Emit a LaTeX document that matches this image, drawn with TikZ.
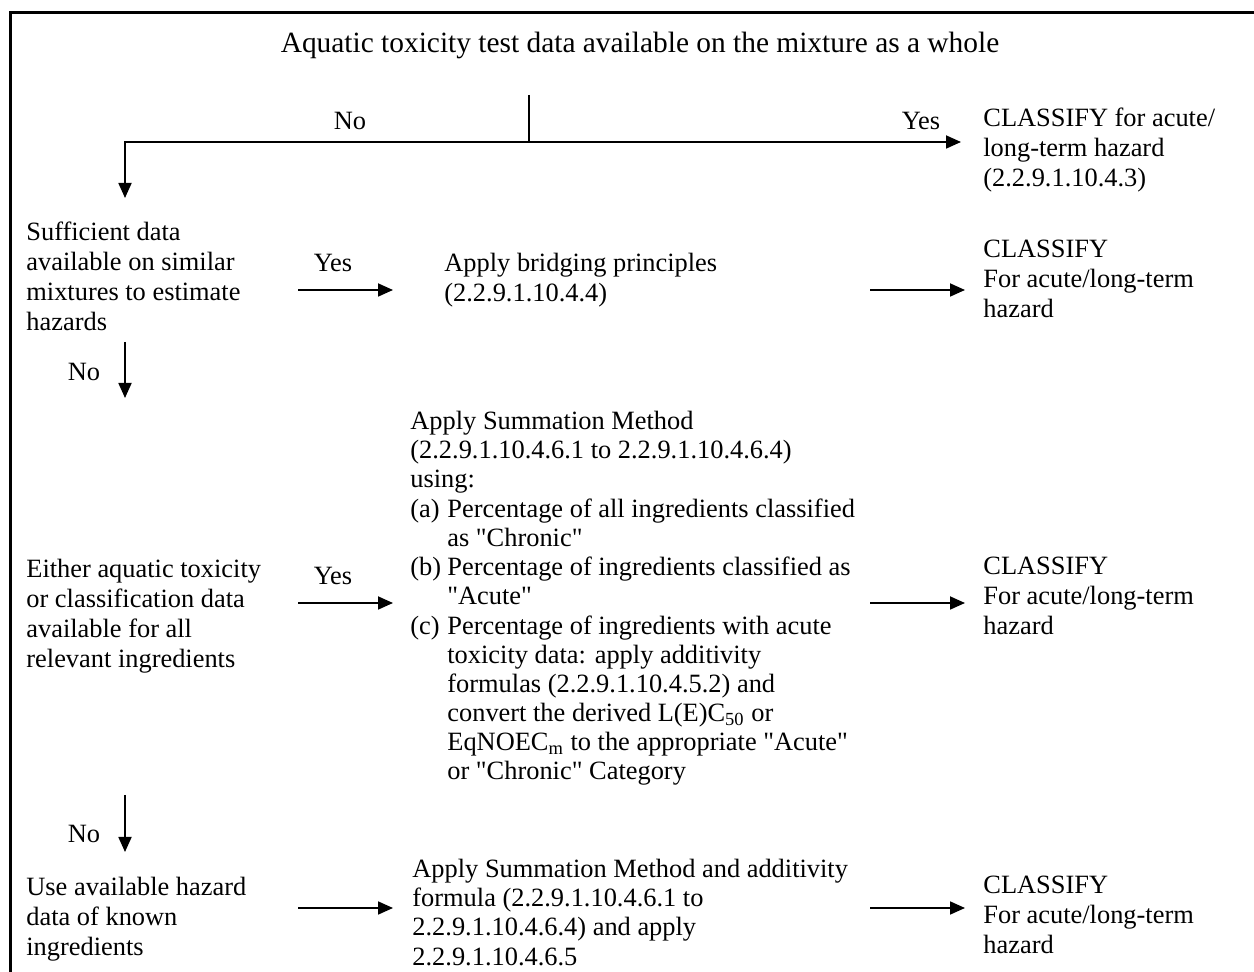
\documentclass[tikz,border=0pt]{standalone}
\usepackage{fontspec}
\setmainfont{Liberation Serif}[Ligatures=TeXOff]
\usetikzlibrary{arrows.meta}

\begin{document}
\begin{tikzpicture}[x=0.5pt,y=-0.5pt,
txt/.style={anchor=base west, inner sep=0pt, align=left, font=\fontsize{13.2}{15}\selectfont},
lbl/.style={anchor=base, inner sep=0pt, font=\fontsize{13.2}{15}\selectfont},
flow/.style={line width=0.9pt, -{Triangle[length=7.5pt,width=6.5pt]}},
]

\useasboundingbox (0,0) rectangle (1254,972);
\draw[line width=1.5pt] (10,972) -- (10,13) -- (1260,13);

\node[lbl, font=\fontsize{14.7}{16}\selectfont] (title) at (640,53) {Aquatic toxicity test data available on the mixture as a whole};

% nodes sit on the baseline of their last line
\node[txt]              (classify0)        at (983,187)      {CLASSIFY for acute/\\long-term hazard\\(2.2.9.1.10.4.3)};

\node[txt]              (sufficient)       at (26,331)       {Sufficient data\\available on similar\\mixtures to estimate\\hazards};
\node[txt]              (bridging)         at (444,302)      {Apply bridging principles\\(2.2.9.1.10.4.4)};
\node[txt]              (classify1)        at (983,318)      {CLASSIFY\\For acute/long-term\\hazard};

\node[txt]              (either)           at (26,668)       {Either aquatic toxicity\\or classification data\\available for all\\relevant ingredients};
\node[txt, font=\fontsize{13.2}{14.6}\selectfont]
                        (summation)        at (410,780)      {Apply Summation Method\\
(2.2.9.1.10.4.6.1 to 2.2.9.1.10.4.6.4)\\
using:\\
\makebox[18.5pt][l]{(a)}Percentage of all ingredients classified\\
\hspace*{18.5pt}as "Chronic"\\
\makebox[18.5pt][l]{(b)}Percentage of ingredients classified as\\
\hspace*{18.5pt}"Acute"\\
\makebox[18.5pt][l]{(c)}Percentage of ingredients with acute\\
\hspace*{18.5pt}toxicity data: apply additivity\\
\hspace*{18.5pt}formulas (2.2.9.1.10.4.5.2) and\\
\hspace*{18.5pt}convert the derived L(E)C\textsubscript{50} or\\
\hspace*{18.5pt}EqNOEC\textsubscript{m} to the appropriate "Acute"\\
\hspace*{18.5pt}or "Chronic" Category};
\node[txt]              (classify2)        at (983,635)      {CLASSIFY\\For acute/long-term\\hazard};

\node[txt]              (known)            at (26,956)       {Use available hazard\\data of known\\ingredients};
\node[txt, font=\fontsize{13.2}{14.6}\selectfont]
                        (additivity)       at (412,965)      {Apply Summation Method and additivity\\formula (2.2.9.1.10.4.6.1 to\\2.2.9.1.10.4.6.4) and apply\\2.2.9.1.10.4.6.5};
\node[txt]              (classify3)        at (983,953)      {CLASSIFY\\For acute/long-term\\hazard};

% top fork
\coordinate (split)  at (529,95);
\coordinate (fork)   at (529,142);
\coordinate (turn)   at (125,142);
\coordinate (down0)  at (125,198);
\coordinate (yes0)   at (961,142);
\draw[line width=0.9pt] (split) -- (fork);
\draw[flow] (fork) -- (turn) -- (down0);
\draw[flow] (fork) -- (yes0);
\node[lbl] (no0)   at (350,130) {No};
\node[lbl] (yes0l) at (921,130) {Yes};

% rows
\foreach \r/\y in {1/290,2/603,3/908}{
  \coordinate (from\r) at (298,\y);
  \coordinate (to\r)   at (393,\y);
  \coordinate (out\r)  at (870,\y);
  \coordinate (cls\r)  at (965,\y);
  \draw[flow] (from\r) -- (to\r);
  \draw[flow] (out\r) -- (cls\r);
}
\node[lbl] (yes1) at (333,272) {Yes};
\node[lbl] (yes2) at (333,585) {Yes};

% no branches
\coordinate (nofrom1) at (125,342);
\coordinate (noto1)   at (125,398);
\coordinate (nofrom2) at (125,795);
\coordinate (noto2)   at (125,852);
\draw[flow] (nofrom1) -- (noto1);
\draw[flow] (nofrom2) -- (noto2);
\node[lbl] (no1) at (84,381) {No};
\node[lbl] (no2) at (84,842) {No};

\end{tikzpicture}
\end{document}
